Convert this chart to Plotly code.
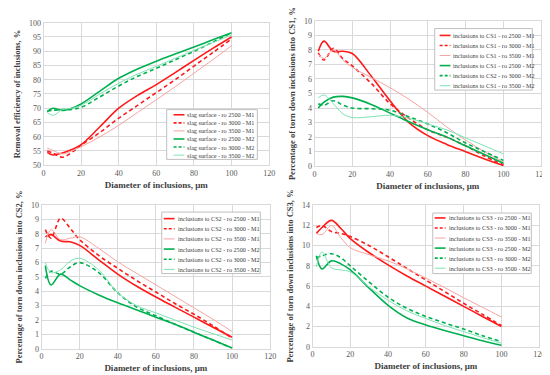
import plotly.graph_objects as go

W, H = 550, 375
FONT = "Liberation Serif"

# ---------------- data ----------------
x_diam = [2, 5, 10, 15, 20, 30, 40, 50, 60, 70, 80, 90, 100]

# Chart 1: removal efficiency (slag surface)
eff_ro2500_m1 = [54.5, 53.6, 54.3, 55.5, 57.2, 63.5, 70.0, 74.5, 78.3, 82.5, 86.8, 91.0, 95.0]
eff_ro3000_m1 = [55.0, 54.3, 52.8, 54.5, 57.0, 61.5, 66.5, 71.0, 75.5, 80.0, 84.8, 89.5, 94.3]
eff_ro3500_m1 = [56.0, 55.2, 54.0, 55.0, 56.5, 60.0, 64.0, 68.5, 73.0, 77.5, 82.3, 87.0, 92.0]
eff_ro2500_m2 = [68.8, 70.0, 69.2, 70.0, 71.5, 76.0, 80.5, 83.8, 86.5, 89.0, 91.5, 94.0, 96.5]
eff_ro3000_m2 = [69.0, 69.3, 69.5, 69.6, 70.3, 74.0, 77.8, 81.2, 84.0, 87.0, 90.0, 93.2, 96.5]
eff_ro3500_m2 = [68.5, 67.5, 69.5, 70.0, 71.0, 75.0, 78.8, 82.0, 84.7, 87.5, 90.3, 93.0, 95.7]

# Chart 2: torn down into CS1
cs1_ro2500_m1 = [7.9, 8.6, 7.9, 7.9, 7.75, 6.2, 4.5, 3.0, 2.1, 1.5, 1.0, 0.5, 0.05]
cs1_ro3000_m1 = [7.8, 7.3, 8.1, 7.4, 6.9, 5.7, 4.3, 3.3, 2.5, 2.0, 1.4, 0.7, 0.1]
cs1_ro3500_m1 = [7.7, 7.4, 8.0, 7.3, 6.8, 6.1, 5.4, 4.6, 3.7, 2.7, 1.8, 1.0, 0.3]
cs1_ro2500_m2 = [4.0, 4.4, 4.75, 4.8, 4.7, 4.25, 3.65, 3.05, 2.5, 2.0, 1.4, 0.8, 0.2]
cs1_ro3000_m2 = [4.3, 4.2, 4.5, 4.2, 4.0, 3.95, 3.85, 3.4, 2.9, 2.3, 1.6, 1.0, 0.4]
cs1_ro3500_m2 = [4.7, 4.9, 4.3, 3.6, 3.35, 3.4, 3.5, 3.3, 2.9, 2.5, 1.95, 1.4, 0.85]

# Chart 3: torn down into CS2
cs2_ro2500_m1 = [7.8, 7.95, 7.5, 7.45, 7.2, 6.2, 5.2, 4.35, 3.6, 2.9, 2.2, 1.5, 0.8]
cs2_ro3000_m1 = [8.3, 7.7, 9.1, 8.4, 7.6, 6.5, 5.6, 4.75, 3.95, 3.15, 2.4, 1.6, 0.75]
cs2_ro3500_m1 = [7.35, 8.3, 7.6, 7.7, 7.8, 7.0, 6.05, 5.25, 4.45, 3.65, 2.85, 2.05, 1.2]
cs2_ro2500_m2 = [5.8, 4.45, 5.2, 4.8, 4.4, 3.75, 3.2, 2.7, 2.2, 1.7, 1.15, 0.6, 0.05]
cs2_ro3000_m2 = [4.9, 5.4, 5.2, 5.7, 6.0, 5.3, 3.9, 2.9, 2.3, 1.7, 1.15, 0.6, 0.05]
cs2_ro3500_m2 = [6.0, 5.3, 5.5, 6.1, 6.3, 5.5, 3.9, 3.0, 2.5, 2.0, 1.5, 1.05, 0.6]

# Chart 4: torn down into CS3
cs3_ro2500_m1 = [11.2, 11.8, 12.5, 11.7, 10.7, 9.3, 8.1, 7.0, 6.0, 5.0, 4.0, 3.0, 2.0]
cs3_ro3000_m1 = [11.8, 12.0, 11.4, 11.2, 10.9, 10.0, 8.9, 7.75, 6.6, 5.45, 4.3, 3.2, 2.1]
cs3_ro3500_m1 = [11.2, 11.1, 12.0, 10.8, 9.8, 9.1, 8.5, 7.7, 6.8, 5.85, 4.85, 3.9, 2.95]
cs3_ro2500_m2 = [9.0, 7.7, 8.5, 8.2, 7.6, 5.8, 4.1, 2.85, 2.15, 1.6, 1.1, 0.6, 0.15]
cs3_ro3000_m2 = [8.8, 9.0, 9.2, 8.8, 8.0, 6.4, 4.9, 3.8, 3.0, 2.35, 1.75, 1.1, 0.5]
cs3_ro3500_m2 = [7.9, 9.4, 7.8, 7.6, 7.4, 5.9, 4.6, 3.55, 2.8, 2.1, 1.5, 0.9, 0.35]

names1 = ["slag surface - ro 2500 - M1", "slag surface - ro 3000 - M1", "slag surface - ro 3500 - M1",
          "slag surface - ro 2500 - M2", "slag surface - ro 3000 - M2", "slag surface - ro 3500 - M2"]
names2 = ["inclusions to CS1 - ro 2500 - M1", "inclusions to CS1 - ro 3000 - M1", "inclusions to CS1 - ro 3500 - M1",
          "inclusions to CS1 - ro 2500 - M2", "inclusions to CS2 - ro 3000 - M2", "inclusions to CS1 - ro 3500 - M2"]
names3 = ["inclusions to CS2 - ro 2500 - M1", "inclusions to CS2 - ro 3000 - M1", "inclusions to CS2 - ro 3500 - M1",
          "inclusions to CS2 - ro 2500 - M2", "inclusions to CS2 - ro 3000 - M2", "inclusions to CS2 - ro 3500 - M2"]
names4 = ["inclusions to CS3 - ro 2500 - M1", "inclusions to CS3 - ro 3000 - M1", "inclusions to CS3 - ro 3500 - M1",
          "inclusions to CS3 - ro 2500 - M2", "inclusions to CS3 - ro 3000 - M2", "inclusions to CS3 - ro 3500 - M2"]

x_title = "Diameter of inclusions, μm"
y_titles = ["Removal efficiency of inclusions, %",
            "Percentage of torn down inclusions into CS1, %",
            "Percentage of torn down inclusions into CS2, %",
            "Percentage of torn down inclusions into CS3, %"]

# ---------------- styles ----------------
RED, PINK, GREEN, LGREEN = "#FF1A1A", "#F7A3A3", "#00B050", "#7EE3B4"
styles = [  # color, dash, width
    (RED, "solid", 1.6),
    (RED, "4px,3px", 1.6),
    (PINK, "solid", 1.0),
    (GREEN, "solid", 1.6),
    (GREEN, "4px,3px", 1.6),
    (LGREEN, "solid", 1.0),
]

panels = [
    dict(series=[eff_ro2500_m1, eff_ro3000_m1, eff_ro3500_m1, eff_ro2500_m2, eff_ro3000_m2, eff_ro3500_m2],
         names=names1, box=(34, 263, 11, 157), yr=(50, 100), dt=5,
         leg=dict(box=(159, 251, 100, 151), y0=105.3, dy=8.27, lx=(166, 177), tx=178)),
    dict(series=[cs1_ro2500_m1, cs1_ro3000_m1, cs1_ro3500_m1, cs1_ro2500_m2, cs1_ro3000_m2, cs1_ro3500_m2],
         names=names2, box=(309, 539, 9, 158), yr=(0, 10), dt=1,
         leg=dict(box=(431, 530, 17, 80), y0=24, dy=10.3, lx=(436, 447), tx=448)),
    dict(series=[cs2_ro2500_m1, cs2_ro3000_m1, cs2_ro3500_m1, cs2_ro2500_m2, cs2_ro3000_m2, cs2_ro3500_m2],
         names=names3, box=(32, 264, 198, 345), yr=(0, 10), dt=1,
         leg=dict(box=(154, 254, 205, 268), y0=211.7, dy=10.4, lx=(156, 167), tx=168)),
    dict(series=[cs3_ro2500_m1, cs3_ro3000_m1, cs3_ro3500_m1, cs3_ro2500_m2, cs3_ro3000_m2, cs3_ro3500_m2],
         names=names4, box=(307, 537, 198, 343), yr=(0, 14), dt=2,
         leg=dict(box=(429, 529, 206, 268), y0=211, dy=10.3, lx=(431, 442), tx=443)),
]


def px(x):
    return x / W


def py(y):
    return 1 - y / H


fig = go.Figure()
shapes, annotations = [], []
layout = {}

for i, p in enumerate(panels):
    k = "" if i == 0 else str(i + 1)
    xa, ya = "x" + k, "y" + k
    for ys, nm, (c, d, w) in zip(p["series"], p["names"], styles):
        fig.add_trace(go.Scatter(
            x=x_diam, y=ys, name=nm, mode="lines", xaxis=xa, yaxis=ya,
            line=dict(color=c, dash=d, width=w, shape="spline", smoothing=1.0),
            showlegend=False, hoverinfo="x+y+name"))
    x0, x1, y0, y1 = p["box"]
    axis_common = dict(showgrid=True, gridcolor="#D9D9D9", gridwidth=1,
                       zeroline=False, showline=True, linecolor="#D9D9D9", mirror=True,
                       ticks="", tickfont=dict(family=FONT, size=8, color="#595959"))
    layout["xaxis" + k] = dict(domain=[px(x0), px(x1)], anchor=ya, range=[0, 120], dtick=20, tick0=0,
                               title=dict(text="<b>" + x_title + "</b>", standoff=4,
                                          font=dict(family=FONT, size=9, color="#404040")),
                               **axis_common)
    layout["yaxis" + k] = dict(domain=[py(y1), py(y0)], anchor=xa, range=list(p["yr"]), dtick=p["dt"], tick0=0,
                               title=dict(text="<b>" + y_titles[i] + "</b>", standoff=6,
                                          font=dict(family=FONT, size=8.5, color="#404040")),
                               **axis_common)
    # legend box built from the series names/styles
    L = p["leg"]
    bx0, bx1, by0, by1 = L["box"]
    shapes.append(dict(type="rect", xref="paper", yref="paper",
                       x0=px(bx0), x1=px(bx1), y0=py(by1), y1=py(by0),
                       line=dict(color="#BFBFBF", width=1), fillcolor="white", layer="above"))
    for j, (nm, (c, d, w)) in enumerate(zip(p["names"], styles)):
        yy = L["y0"] + j * L["dy"]
        shapes.append(dict(type="line", xref="paper", yref="paper",
                           x0=px(L["lx"][0]), x1=px(L["lx"][1]), y0=py(yy), y1=py(yy),
                           line=dict(color=c, dash="3px,2px" if d != "solid" else "solid", width=w),
                           layer="above"))
        annotations.append(dict(text=nm, xref="paper", yref="paper", x=px(L["tx"]), y=py(yy),
                                xanchor="left", yanchor="middle", showarrow=False,
                                font=dict(family=FONT, size=6.2, color="#404040")))

fig.update_layout(
    width=W, height=H,
    margin=dict(l=0, r=0, t=0, b=0),
    paper_bgcolor="white", plot_bgcolor="white",
    shapes=shapes, annotations=annotations,
    showlegend=False,
    **layout,
)

fig.write_html("out.html")
